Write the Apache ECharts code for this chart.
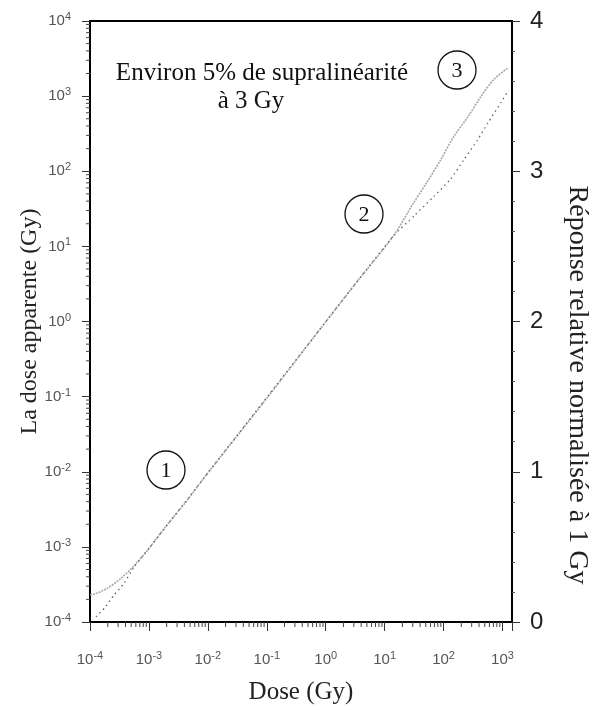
<!DOCTYPE html>
<html>
<head>
<meta charset="utf-8">
<script src="https://cdn.jsdelivr.net/npm/echarts@6/dist/echarts.min.js"></script>
<style>
  html, body { margin: 0; padding: 0; background: #fff; }
  #chart { width: 592px; height: 718px; }
</style>
</head>
<body>
<div id="chart"></div>
<script>
// courbe avec supralinéarité (trait gris clair)
const doseSupra = [1.0e-4, 1.17e-4, 1.95e-4, 3.2e-4, 5.6e-4, 1.05e-3, 1.8e-3, 4.5e-3, 8.1e-3, 0.1, 0.79, 3.2, 13.8, 31, 52, 89, 148, 257, 427, 708, 1260]
const apparentSupra = [2.3e-4, 2.34e-4, 2.8e-4, 3.7e-4, 5.6e-4, 1.0e-3, 1.75e-3, 4.2e-3, 7.8e-3, 0.095, 0.78, 3.2, 13.5, 38, 71, 141, 288, 525, 977, 1660, 2400]

// réponse de référence (pointillés)
const doseRef = [1.26e-4, 1.82e-4, 2.57e-4, 3.8e-4, 5.6e-4, 1.05e-3, 8.1e-3, 0.79, 13.8, 32, 68, 132, 219, 380, 562, 933, 1260]
const apparentRef = [1.17e-4, 1.58e-4, 2.3e-4, 3.3e-4, 5.4e-4, 1.0e-3, 7.8e-3, 0.78, 13.5, 25.7, 46, 79, 141, 263, 437, 813, 1200]

const rightTicks = [0, 1, 2, 3, 4]

// petites graduations logarithmiques (2..9 x 10^n)
const minorX = []
const minorY = []
for (let e = -4; e < 4; e++) {
  for (let k = 2; k <= 9; k++) {
    const v = k * Math.pow(10, e)
    if (v < 1450) minorX.push(v)
    minorY.push(v)
  }
}

const chart = echarts.init(document.getElementById('chart'))

function pow10Label(v) {
  const e = Math.log10(v)
  if (Math.abs(e - Math.round(e)) > 1e-6) return ''
  return '{b|10}{s|' + Math.round(e) + '}'
}

const richLabel = {
  b: { fontSize: 15, fontFamily: 'Liberation Sans', color: '#555' },
  s: { fontSize: 11, fontFamily: 'Liberation Sans', color: '#555', padding: [0, 0, 8, 0] }
}

const serif = 'Liberation Serif'

function tickItem(dir, len) {
  return function (params, api) {
    const p = api.coord([api.value(0), api.value(1)])
    const shape = dir === 'x'
      ? { x1: p[0], y1: p[1], x2: p[0], y2: p[1] + len }
      : { x1: p[0] - len, y1: p[1], x2: p[0], y2: p[1] }
    return { type: 'line', shape: shape, style: { stroke: '#444', lineWidth: 1 } }
  }
}

chart.setOption({
  backgroundColor: '#fff',
  animation: false,
  grid: {
    left: 90,
    right: 80,
    top: 21,
    bottom: 96,
    show: true,
    borderColor: '#000',
    borderWidth: 2
  },
  xAxis: {
    type: 'log',
    min: 1e-4,
    max: 1450,
    name: 'Dose (Gy)',
    nameLocation: 'middle',
    nameGap: 58,
    nameMoveOverlap: false,
    nameTextStyle: { fontFamily: serif, fontSize: 25, color: '#222' },
    axisLine: { lineStyle: { color: '#000', width: 2 } },
    axisTick: { length: 9, lineStyle: { color: '#333' } },
    splitLine: { show: false },
    axisLabel: { formatter: pow10Label, rich: richLabel, margin: 28 }
  },
  yAxis: [
    {
      type: 'log',
      min: 1e-4,
      max: 1e4,
      name: 'La dose apparente (Gy)',
      nameLocation: 'middle',
      nameRotate: 90,
      nameGap: 48,
      nameMoveOverlap: false,
      nameTextStyle: { fontFamily: serif, fontSize: 24, color: '#222' },
      axisLine: { lineStyle: { color: '#000', width: 2 } },
      axisTick: { length: 8, lineStyle: { color: '#333' } },
      splitLine: { show: false },
      axisLabel: { formatter: pow10Label, rich: richLabel, margin: 19 }
    },
    {
      type: 'value',
      min: 0,
      max: 4,
      interval: 1,
      position: 'right',
      axisLine: { show: true, lineStyle: { color: '#000', width: 2 } },
      axisTick: { length: 8, lineStyle: { color: '#333' } },
      minorTick: { show: true, splitNumber: 5, length: 3, lineStyle: { color: '#555' } },
      splitLine: { show: false },
      axisLabel: {
        fontFamily: 'Liberation Sans',
        fontSize: 24,
        color: '#222',
        margin: 18,
        formatter: v => rightTicks.includes(v) ? String(v) : ''
      }
    }
  ],
  series: [
    {
      name: 'supra',
      type: 'line',
      symbol: 'none',
      smooth: 0.3,
      data: doseSupra.map((d, i) => [d, apparentSupra[i]]),
      lineStyle: { color: '#a8a8a8', width: 1.6, type: [2, 1] },
      z: 3
    },
    {
      name: 'ref',
      type: 'line',
      symbol: 'none',
      smooth: 0.2,
      data: doseRef.map((d, i) => [d, apparentRef[i]]),
      lineStyle: { color: '#666', width: 1.3, type: [1.5, 3.5] },
      z: 4
    },
    {
      name: 'minorX',
      type: 'custom',
      silent: true,
      clip: false,
      data: minorX.map(v => [v, 1e-4]),
      renderItem: tickItem('x', 5)
    },
    {
      name: 'minorY',
      type: 'custom',
      silent: true,
      clip: false,
      data: minorY.map(v => [1e-4, v]),
      renderItem: tickItem('y', 4)
    }
  ],
  graphic: [
    { type: 'text', x: 262, y: 73, style: { text: 'Environ 5% de supralinéarité', font: '25px "Liberation Serif"', fill: '#111', align: 'center', verticalAlign: 'middle' } },
    { type: 'text', x: 251, y: 101, style: { text: 'à 3 Gy', font: '25px "Liberation Serif"', fill: '#111', align: 'center', verticalAlign: 'middle' } },
    { type: 'text', x: 577, y: 385, rotation: -Math.PI / 2, style: { text: 'Réponse relative normalisée à 1 Gy', font: '28px "Liberation Serif"', fill: '#222', align: 'center', verticalAlign: 'middle' } },
    { type: 'circle', shape: { cx: 166, cy: 470, r: 19 }, style: { fill: 'none', stroke: '#111', lineWidth: 1.3 } },
    { type: 'text', x: 166, y: 471, style: { text: '1', font: '22px "Liberation Serif"', fill: '#111', align: 'center', verticalAlign: 'middle' } },
    { type: 'circle', shape: { cx: 364, cy: 214, r: 19 }, style: { fill: 'none', stroke: '#111', lineWidth: 1.3 } },
    { type: 'text', x: 364, y: 215, style: { text: '2', font: '22px "Liberation Serif"', fill: '#111', align: 'center', verticalAlign: 'middle' } },
    { type: 'circle', shape: { cx: 457, cy: 70, r: 19 }, style: { fill: 'none', stroke: '#111', lineWidth: 1.3 } },
    { type: 'text', x: 457, y: 71, style: { text: '3', font: '22px "Liberation Serif"', fill: '#111', align: 'center', verticalAlign: 'middle' } }
  ]
})
</script>
</body>
</html>
